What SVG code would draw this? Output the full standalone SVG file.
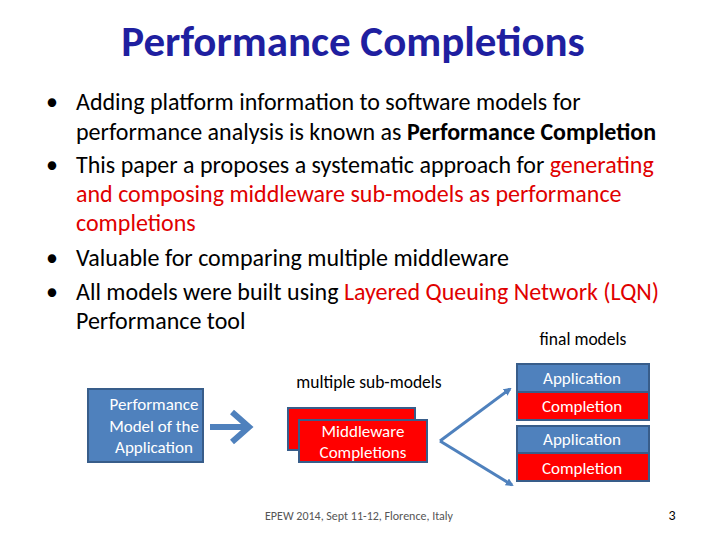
<svg xmlns="http://www.w3.org/2000/svg" width="720" height="540" viewBox="0 0 720 540">
<defs>
<style>
text{font-family:Calibri,Carlito,"Liberation Sans","DejaVu Sans",sans-serif}
.b{font-size:24px;fill:#000}
.r{fill:#e00000}
.blue{fill:#4f81bd;stroke:#385d8a;stroke-width:2}
.red{fill:#ff0000;stroke:#385d8a;stroke-width:2}
.w{fill:#fff;font-size:17px;text-anchor:middle}
.s{font-size:17.5px;fill:#000;text-anchor:middle}
</style>
<marker id="ah" markerWidth="8" markerHeight="8" refX="6" refY="4" orient="auto" markerUnits="userSpaceOnUse"><path d="M0,0 L8,4 L0,8 z" fill="#4f81bd"/></marker>
</defs>
<rect width="720" height="540" fill="#fff"/>
<text x="353" y="56" font-size="43" font-weight="bold" fill="#1f1fa0" text-anchor="middle">Performance Completions</text>
<g>
<text x="46" y="110" class="b">•</text><text x="76" y="110" class="b">Adding platform information to software models for</text>
<text x="76" y="140" class="b">performance analysis is known as <tspan font-weight="bold">Performance Completion</tspan></text>
<text x="46" y="173" class="b">•</text><text x="76" y="173" class="b">This paper a proposes a systematic approach for <tspan class="r">generating</tspan></text>
<text x="76" y="202" class="b"><tspan class="r">and composing middleware sub-models as performance</tspan></text>
<text x="76" y="231" class="b"><tspan class="r">completions</tspan></text>
<text x="46" y="266" class="b">•</text><text x="76" y="266" class="b">Valuable for comparing multiple middleware</text>
<text x="46" y="300" class="b">•</text><text x="76" y="300" class="b">All models were built using <tspan class="r">Layered Queuing Network (LQN)</tspan></text>
<text x="76" y="329" class="b">Performance tool</text>
</g>
<text x="583" y="345" class="s">final models</text>
<text x="369" y="388" class="s">multiple sub-models</text>
<g id="perf"><rect class="blue" x="88" y="389" width="115" height="73"/>
<text class="w" x="154" y="410">Performance</text><text class="w" x="154" y="432">Model of the</text><text class="w" x="154" y="453">Application</text></g>
<g id="mw"><rect class="red" x="288" y="408" width="127" height="42"/><rect class="red" x="299" y="420" width="128" height="42"/>
<text class="w" x="363" y="437">Middleware</text><text class="w" x="363" y="458">Completions</text></g>
<g id="final1"><rect class="blue" x="517" y="364" width="132" height="28"/><rect class="red" x="517" y="392" width="132" height="28"/>
<text class="w" x="582" y="384">Application</text><text class="w" x="582" y="412">Completion</text></g>
<g id="final2"><rect class="blue" x="517" y="426" width="132" height="27"/><rect class="red" x="517" y="453" width="132" height="28"/>
<text class="w" x="582" y="445">Application</text><text class="w" x="582" y="474">Completion</text></g>
<g id="connectors" fill="none" stroke="#4f81bd">
<path d="M210,427 H246 M232,412 L249,427 L232,442" stroke-width="6" stroke-linejoin="miter"/>
<path d="M440,441 L510,389" stroke-width="3" marker-end="url(#ah)"/>
<path d="M440,441 L512,485" stroke-width="3" marker-end="url(#ah)"/>
</g>
<text x="359" y="520" font-size="12" fill="#555" text-anchor="middle">EPEW 2014, Sept 11-12, Florence, Italy</text>
<text x="672" y="520" font-size="14" fill="#000" text-anchor="middle">3</text>
</svg>
